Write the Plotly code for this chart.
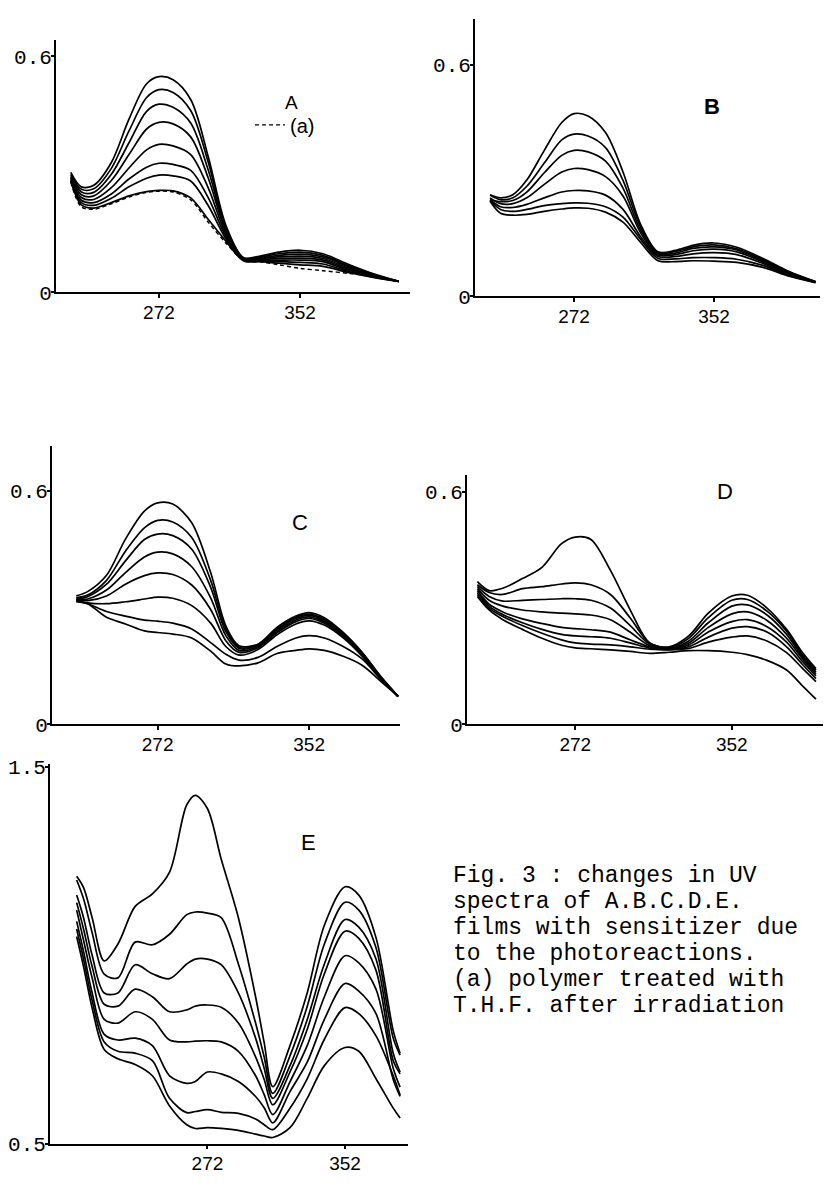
import plotly.graph_objects as go

W, H = 827, 1189

# ---------------- Panel A ----------------
WL_A = [222, 228, 235, 245, 255, 265, 272, 280, 290, 300, 310, 320, 330, 340, 352, 365, 380, 395, 408]
A_SPECTRA = [
    [0.305, 0.268, 0.272, 0.330, 0.440, 0.530, 0.548, 0.540, 0.490, 0.344, 0.170, 0.088, 0.093, 0.102, 0.107, 0.098, 0.070, 0.045, 0.028],
    [0.300, 0.262, 0.263, 0.315, 0.410, 0.495, 0.515, 0.508, 0.462, 0.330, 0.165, 0.087, 0.090, 0.098, 0.102, 0.094, 0.067, 0.044, 0.028],
    [0.297, 0.255, 0.254, 0.300, 0.380, 0.460, 0.478, 0.470, 0.430, 0.310, 0.160, 0.086, 0.088, 0.094, 0.097, 0.090, 0.064, 0.042, 0.028],
    [0.293, 0.248, 0.245, 0.284, 0.350, 0.415, 0.432, 0.428, 0.395, 0.290, 0.155, 0.085, 0.086, 0.090, 0.092, 0.086, 0.061, 0.041, 0.028],
    [0.290, 0.241, 0.236, 0.266, 0.316, 0.362, 0.376, 0.372, 0.350, 0.265, 0.148, 0.084, 0.084, 0.086, 0.087, 0.082, 0.058, 0.040, 0.028],
    [0.287, 0.234, 0.228, 0.250, 0.288, 0.318, 0.328, 0.325, 0.310, 0.240, 0.142, 0.083, 0.082, 0.082, 0.082, 0.078, 0.055, 0.039, 0.028],
    [0.284, 0.228, 0.221, 0.239, 0.268, 0.290, 0.298, 0.296, 0.283, 0.220, 0.136, 0.082, 0.080, 0.078, 0.076, 0.072, 0.052, 0.038, 0.028],
    [0.282, 0.222, 0.214, 0.228, 0.245, 0.256, 0.259, 0.258, 0.240, 0.185, 0.130, 0.080, 0.078, 0.074, 0.070, 0.066, 0.050, 0.037, 0.028],
]
# (a): polymer treated with T.H.F. after irradiation
A_THF = [0.280, 0.217, 0.211, 0.225, 0.242, 0.254, 0.257, 0.255, 0.235, 0.178, 0.125, 0.082, 0.077, 0.070, 0.061, 0.055, 0.048, 0.040, 0.028]

# ---------------- Panel B ----------------
WL_B = [224, 230, 237, 245, 255, 265, 272, 280, 290, 300, 310, 320, 330, 340, 352, 365, 380, 395, 410]
B_SPECTRA = [
    [0.263, 0.255, 0.263, 0.301, 0.378, 0.450, 0.473, 0.467, 0.424, 0.322, 0.187, 0.115, 0.119, 0.132, 0.138, 0.127, 0.098, 0.064, 0.038],
    [0.262, 0.250, 0.255, 0.285, 0.345, 0.405, 0.420, 0.415, 0.385, 0.300, 0.180, 0.113, 0.116, 0.128, 0.133, 0.123, 0.095, 0.062, 0.038],
    [0.250, 0.245, 0.248, 0.270, 0.320, 0.365, 0.378, 0.374, 0.350, 0.280, 0.172, 0.110, 0.112, 0.124, 0.128, 0.120, 0.092, 0.060, 0.037],
    [0.255, 0.240, 0.240, 0.255, 0.290, 0.322, 0.331, 0.328, 0.310, 0.260, 0.165, 0.107, 0.108, 0.118, 0.122, 0.115, 0.089, 0.058, 0.037],
    [0.250, 0.232, 0.230, 0.238, 0.255, 0.270, 0.274, 0.273, 0.262, 0.225, 0.155, 0.103, 0.103, 0.110, 0.113, 0.108, 0.085, 0.056, 0.036],
    [0.248, 0.225, 0.220, 0.225, 0.235, 0.240, 0.242, 0.241, 0.232, 0.205, 0.148, 0.098, 0.097, 0.100, 0.100, 0.096, 0.080, 0.054, 0.036],
    [0.246, 0.215, 0.210, 0.212, 0.220, 0.226, 0.229, 0.228, 0.218, 0.192, 0.140, 0.092, 0.090, 0.092, 0.091, 0.088, 0.075, 0.052, 0.035],
]

# ---------------- Panel C ----------------
WL_C = [229, 235, 245, 255, 265, 272, 280, 290, 300, 308, 315, 325, 335, 345, 352, 360, 370, 380, 390, 399]
C_SPECTRA = [
    [0.330, 0.341, 0.383, 0.476, 0.548, 0.569, 0.566, 0.518, 0.390, 0.253, 0.202, 0.206, 0.249, 0.278, 0.287, 0.274, 0.236, 0.185, 0.122, 0.072],
    [0.325, 0.332, 0.370, 0.445, 0.505, 0.524, 0.520, 0.480, 0.370, 0.245, 0.198, 0.205, 0.245, 0.275, 0.283, 0.270, 0.233, 0.183, 0.121, 0.072],
    [0.322, 0.328, 0.360, 0.420, 0.475, 0.489, 0.485, 0.450, 0.352, 0.238, 0.195, 0.203, 0.242, 0.272, 0.280, 0.267, 0.230, 0.181, 0.120, 0.072],
    [0.320, 0.322, 0.345, 0.390, 0.430, 0.4425, 0.438, 0.405, 0.325, 0.228, 0.190, 0.200, 0.238, 0.268, 0.276, 0.263, 0.227, 0.179, 0.119, 0.072],
    [0.320, 0.318, 0.330, 0.360, 0.382, 0.389, 0.385, 0.358, 0.295, 0.215, 0.185, 0.197, 0.235, 0.264, 0.272, 0.260, 0.225, 0.177, 0.118, 0.072],
    [0.318, 0.312, 0.310, 0.315, 0.322, 0.327, 0.324, 0.305, 0.260, 0.200, 0.178, 0.192, 0.230, 0.258, 0.266, 0.255, 0.222, 0.175, 0.117, 0.071],
    [0.316, 0.310, 0.290, 0.278, 0.268, 0.265, 0.260, 0.245, 0.210, 0.180, 0.165, 0.172, 0.200, 0.222, 0.228, 0.222, 0.200, 0.168, 0.115, 0.072],
    [0.316, 0.310, 0.275, 0.258, 0.240, 0.236, 0.232, 0.222, 0.188, 0.155, 0.150, 0.158, 0.182, 0.190, 0.194, 0.190, 0.175, 0.152, 0.110, 0.072],
]

# ---------------- Panel D ----------------
WL_D = [222, 228, 235, 245, 255, 265, 272, 280, 290, 300, 310, 320, 330, 340, 352, 360, 370, 380, 388, 395]
D_SPECTRA = [
    [0.368, 0.345, 0.351, 0.376, 0.405, 0.466, 0.483, 0.477, 0.397, 0.296, 0.210, 0.200, 0.228, 0.287, 0.331, 0.333, 0.300, 0.245, 0.186, 0.144],
    [0.360, 0.340, 0.335, 0.350, 0.355, 0.362, 0.365, 0.360, 0.335, 0.275, 0.210, 0.198, 0.222, 0.275, 0.320, 0.322, 0.292, 0.240, 0.180, 0.140],
    [0.355, 0.330, 0.318, 0.320, 0.322, 0.324, 0.324, 0.320, 0.300, 0.255, 0.207, 0.196, 0.215, 0.262, 0.305, 0.308, 0.282, 0.232, 0.175, 0.135],
    [0.350, 0.320, 0.305, 0.295, 0.290, 0.287, 0.285, 0.282, 0.270, 0.238, 0.203, 0.195, 0.210, 0.250, 0.285, 0.290, 0.268, 0.222, 0.170, 0.130],
    [0.345, 0.310, 0.290, 0.272, 0.260, 0.250, 0.247, 0.244, 0.238, 0.218, 0.200, 0.194, 0.205, 0.238, 0.265, 0.270, 0.252, 0.212, 0.163, 0.125],
    [0.340, 0.305, 0.283, 0.262, 0.245, 0.232, 0.228, 0.226, 0.222, 0.210, 0.197, 0.193, 0.200, 0.225, 0.248, 0.252, 0.238, 0.200, 0.155, 0.118],
    [0.335, 0.300, 0.278, 0.255, 0.235, 0.218, 0.210, 0.207, 0.205, 0.200, 0.194, 0.192, 0.196, 0.212, 0.225, 0.228, 0.215, 0.185, 0.145, 0.110],
    [0.330, 0.295, 0.270, 0.245, 0.222, 0.204, 0.197, 0.195, 0.192, 0.188, 0.183, 0.186, 0.190, 0.190, 0.186, 0.180, 0.165, 0.140, 0.100, 0.065],
]

# ---------------- Panel E ----------------
WL_E = [196, 200, 205, 212, 220, 230, 240, 250, 260, 265, 272, 280, 290, 300, 305, 310, 320, 330, 340, 352, 360, 370, 380, 384]
E_SPECTRA = [
    [1.21, 1.18, 1.10, 0.985, 1.03, 1.13, 1.163, 1.221, 1.40, 1.425, 1.39, 1.256, 1.10, 0.89, 0.768, 0.651, 0.76, 0.90, 1.08, 1.182, 1.16, 1.047, 0.80, 0.74],
    [1.20, 1.15, 1.06, 0.95, 0.94, 1.035, 1.028, 1.056, 1.108, 1.115, 1.112, 1.10, 0.977, 0.82, 0.73, 0.633, 0.733, 0.864, 1.03, 1.141, 1.12, 1.02, 0.78, 0.735],
    [1.16, 1.10, 1.00, 0.90, 0.90, 0.975, 0.951, 0.938, 0.977, 0.99, 0.99, 0.975, 0.90, 0.78, 0.70, 0.62, 0.707, 0.829, 0.977, 1.095, 1.075, 0.99, 0.74, 0.69],
    [1.14, 1.07, 0.97, 0.87, 0.865, 0.91, 0.89, 0.85, 0.855, 0.865, 0.868, 0.862, 0.82, 0.73, 0.67, 0.603, 0.69, 0.803, 0.951, 1.064, 1.045, 0.96, 0.72, 0.685],
    [1.12, 1.04, 0.94, 0.83, 0.82, 0.85, 0.83, 0.775, 0.77, 0.772, 0.773, 0.77, 0.745, 0.68, 0.63, 0.577, 0.664, 0.76, 0.89, 0.999, 0.98, 0.91, 0.70, 0.65],
    [1.09, 1.01, 0.90, 0.79, 0.775, 0.78, 0.76, 0.68, 0.66, 0.665, 0.69, 0.685, 0.665, 0.625, 0.595, 0.555, 0.638, 0.716, 0.83, 0.925, 0.905, 0.845, 0.67, 0.625],
    [1.07, 0.99, 0.88, 0.77, 0.745, 0.74, 0.72, 0.62, 0.582, 0.585, 0.59, 0.583, 0.58, 0.565, 0.55, 0.537, 0.594, 0.672, 0.777, 0.861, 0.845, 0.786, 0.68, 0.629],
    [1.05, 0.97, 0.86, 0.75, 0.725, 0.71, 0.68, 0.60, 0.55, 0.54, 0.542, 0.54, 0.535, 0.525, 0.52, 0.516, 0.542, 0.62, 0.707, 0.755, 0.745, 0.672, 0.594, 0.568],
]

X_TICKS = [272, 352]
X_TICK_TEXT = ["272", "352"]

CAPTION = [
    "Fig. 3 : changes in UV",
    "spectra of A.B.C.D.E.",
    "films with sensitizer due",
    "to the photoreactions.",
    "(a) polymer treated with",
    "T.H.F. after irradiation",
]

# panel frames in pixels: (left, right, top, bottom), axis ranges
PANELS = {
    "A": dict(px=(56, 410, 35, 291), xr=(213.6, 414.4), yr=(0, 0.64), yt=[0, 0.6], ytt=["0", "0.6"]),
    "B": dict(px=(475, 820, 13, 295), xr=(215.4, 412.6), yr=(0, 0.7187), yt=[0, 0.6], ytt=["0", "0.6"]),
    "C": dict(px=(52, 400, 447, 730), xr=(216.2, 400.0), yr=(0, 0.7156), yt=[0, 0.6], ytt=["0", "0.6"]),
    "D": dict(px=(467, 823, 477, 730), xr=(216.7, 398.6), yr=(0, 0.6422), yt=[0, 0.6], ytt=["0", "0.6"]),
    "E": dict(px=(50, 408, 770, 1156), xr=(180.5, 388.6), yr=(0.5, 1.509), yt=[0.5, 1.5], ytt=["0.5", "1.5"]),
}

SERIES = {
    "A": (WL_A, A_SPECTRA),
    "B": (WL_B, B_SPECTRA),
    "C": (WL_C, C_SPECTRA),
    "D": (WL_D, D_SPECTRA),
    "E": (WL_E, E_SPECTRA),
}

LINE = dict(color="black", width=1.7, shape="spline", smoothing=0.9)

fig = go.Figure()
layout = dict(
    width=W, height=H, margin=dict(l=0, r=0, t=0, b=0),
    paper_bgcolor="white", plot_bgcolor="white", showlegend=True,
)

mono = "Liberation Mono, Courier New, monospace"
sans = "Liberation Sans, Arial, sans-serif"

for i, (name, p) in enumerate(PANELS.items()):
    n = "" if i == 0 else str(i + 1)
    l, r, t, b = p["px"]
    layout["xaxis" + n] = dict(
        domain=[l / W, r / W], range=list(p["xr"]), anchor="y" + n,
        showline=True, linecolor="black", linewidth=1.8, showgrid=False, zeroline=False,
        tickvals=X_TICKS, ticktext=X_TICK_TEXT, ticks="outside", ticklen=4, tickwidth=1.5,
        tickcolor="black", ticklabelstandoff=-2,
        tickfont=dict(family=sans, size=19, color="black"),
    )
    layout["yaxis" + n] = dict(
        domain=[1 - b / H, 1 - t / H], range=list(p["yr"]), anchor="x" + n,
        showline=True, linecolor="black", linewidth=1.8, showgrid=False, zeroline=False,
        tickvals=p["yt"], ticktext=p["ytt"], ticks="outside", ticklen=3, tickwidth=1.5,
        tickcolor="black", ticklabelstandoff=-5,
        tickfont=dict(family=mono, size=21, color="black"),
    )
    wl, spectra = SERIES[name]
    for s in spectra:
        fig.add_trace(go.Scatter(x=wl, y=s, mode="lines", line=LINE, showlegend=False,
                                 hoverinfo="skip", xaxis="x" + n, yaxis="y" + n))
    if name == "A":
        fig.add_trace(go.Scatter(x=wl, y=A_THF, mode="lines", name="(a)",
                                 line=dict(color="black", width=1.4, dash="4px,3px",
                                           shape="spline", smoothing=0.9),
                                 hoverinfo="skip", xaxis="x", yaxis="y", showlegend=True))

layout["legend"] = dict(
    x=250 / W, y=1 - 101 / H, xanchor="left", yanchor="top",
    bgcolor="rgba(0,0,0,0)", borderwidth=0, itemwidth=30,
    font=dict(family=sans, size=20, color="black"),
)

# panel letters
letters = [("A", 291, 98, False), ("B", 712, 102, True), ("C", 300, 525, False),
           ("D", 725, 493, False), ("E", 308, 850, False)]
annotations = []
for txt, x, y, bold in letters:
    annotations.append(dict(
        text=f"<b>{txt}</b>" if bold else txt, x=x / W, y=1 - y / H, xref="paper", yref="paper",
        showarrow=False, xanchor="center", yanchor="middle", borderpad=0,
        font=dict(family=sans, size=19 if txt == "A" else 22, color="black"),
    ))

# caption, one line per annotation to keep the tight typewriter spacing
for k, line in enumerate(CAPTION):
    annotations.append(dict(
        text=line, x=453 / W, y=1 - (884 + 26.4 * k) / H, xref="paper", yref="paper",
        showarrow=False, xanchor="left", yanchor="middle", borderpad=0, borderwidth=0,
        font=dict(family=mono, size=23, color="black"),
    ))

layout["annotations"] = annotations
fig.update_layout(**layout)
fig.write_html("out.html")
